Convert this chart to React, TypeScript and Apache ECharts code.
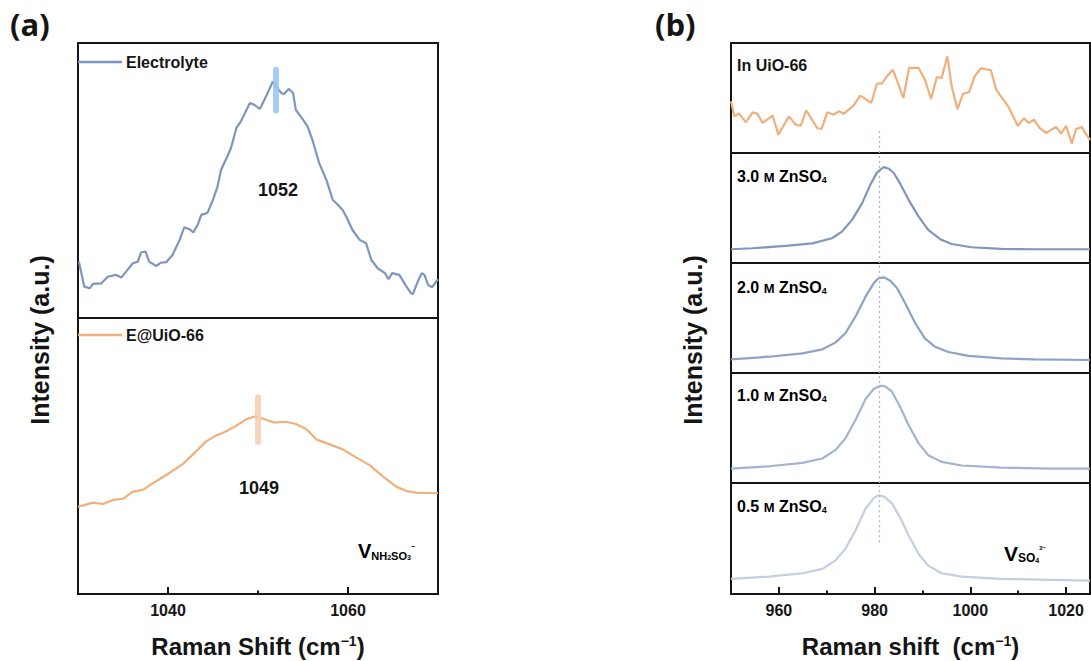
import React, { useEffect, useRef } from "react";
import * as echarts from "echarts";

// ---------- data ----------
const electrolyte: [number, number][] = [
  [1030.1, 20.5], [1030.7, 11.4], [1031.3, 10.8], [1031.65, 12.4], [1032.6, 12.6], [1033.3, 15.0],
  [1034.2, 15.7], [1034.8, 14.7], [1035.5, 17.5], [1036.1, 19.9], [1036.65, 20.5], [1037.0, 23.8],
  [1037.5, 24.2], [1037.9, 20.5], [1038.7, 18.9], [1039.2, 20.1], [1039.8, 20.3], [1040.5, 22.9],
  [1041.3, 28.4], [1041.8, 33.0], [1042.4, 32.3], [1042.8, 31.1], [1043.3, 33.9], [1043.7, 37.5],
  [1044.4, 38.3], [1045.0, 43.0], [1045.5, 47.8], [1045.9, 53.9], [1046.5, 58.1], [1047.0, 61.8],
  [1047.6, 69.1], [1048.1, 71.5], [1049.1, 78.2], [1049.6, 77.5], [1050.2, 76.0], [1050.9, 80.6],
  [1051.65, 86.0], [1052.0, 84.2], [1052.6, 81.8], [1052.9, 81.4], [1053.4, 83.3], [1053.9, 81.8],
  [1054.2, 75.7], [1055.0, 72.1], [1055.5, 69.7], [1056.1, 64.2], [1056.8, 56.3], [1057.6, 50.2],
  [1058.3, 43.0], [1058.9, 41.1], [1059.4, 39.3], [1059.8, 36.9], [1060.5, 32.0], [1061.3, 28.4],
  [1062.0, 27.2], [1062.6, 21.1], [1063.3, 18.1], [1064.1, 16.3], [1064.5, 14.1], [1064.9, 16.3],
  [1065.7, 15.7], [1066.5, 11.4], [1067.0, 9.0], [1067.2, 8.7], [1067.9, 14.4], [1068.2, 16.3],
  [1068.5, 15.7], [1068.9, 12.0], [1069.35, 11.2], [1070.0, 14.1],
];

const eAtUiO: [number, number][] = [
  [1030.0, 31.6], [1030.7, 32.2], [1031.65, 33.1], [1032.8, 32.6], [1033.9, 34.1], [1035.0, 34.5],
  [1036.1, 37.1], [1037.2, 37.7], [1038.3, 40.1], [1039.8, 43.1], [1041.65, 47.1], [1043.1, 51.6],
  [1044.2, 55.2], [1045.2, 57.2], [1046.3, 58.7], [1047.6, 61.0], [1048.7, 63.3], [1049.6, 64.3],
  [1050.5, 63.6], [1051.8, 62.1], [1053.1, 62.4], [1054.2, 61.6], [1055.35, 59.8], [1056.5, 56.0],
  [1057.9, 54.3], [1059.4, 52.4], [1060.9, 49.5], [1062.4, 46.7], [1063.9, 42.5], [1065.35, 38.9],
  [1066.5, 37.3], [1067.6, 36.7], [1068.7, 36.6], [1070.0, 36.6],
];

const inUiO66: [number, number][] = [
  [950.0, 47.0], [950.7, 33.3], [951.7, 35.8], [953.1, 27.9], [954.5, 37.0], [955.5, 35.8],
  [956.6, 27.3], [958.7, 33.9], [959.9, 16.7], [962.1, 33.3], [963.5, 25.8], [964.6, 24.8],
  [965.7, 38.8], [968.0, 22.7], [968.9, 21.8], [970.1, 37.0], [971.5, 34.8], [972.5, 37.9],
  [973.6, 35.8], [975.6, 43.0], [977.0, 52.1], [979.3, 45.5], [980.5, 63.0], [981.5, 63.0],
  [982.6, 69.7], [983.8, 75.8], [985.0, 62.1], [986.0, 50.0], [987.2, 77.3], [989.2, 77.3],
  [990.5, 66.7], [991.8, 49.1], [993.0, 69.1], [994.0, 68.2], [995.2, 87.9], [996.1, 60.6],
  [997.3, 40.0], [998.5, 53.9], [999.7, 55.2], [1000.9, 69.7], [1002.2, 77.0], [1004.3, 75.2],
  [1005.4, 57.6], [1006.5, 50.9], [1007.9, 42.4], [1009.9, 24.8], [1011.2, 31.5], [1012.2, 27.3],
  [1013.3, 30.3], [1014.5, 22.7], [1015.8, 18.2], [1016.9, 21.2], [1017.9, 23.6], [1019.0, 17.6],
  [1020.0, 24.8], [1021.2, 8.5], [1022.1, 21.8], [1023.3, 23.6], [1023.8, 19.7], [1024.5, 15.2],
  [1025.0, 12.0],
];

const zn30: [number, number][] = [
  [950.0, 12.5], [954.5, 13.4], [961.4, 15.5], [967.0, 17.9], [971.1, 22.5], [973.2, 28.6],
  [975.3, 39.2], [977.4, 54.4], [979.1, 71.1], [980.5, 82.4], [981.9, 87.2], [983.0, 85.7],
  [984.0, 81.8], [985.3, 72.6], [987.1, 57.4], [989.2, 42.2], [991.2, 30.1], [993.7, 21.6],
  [996.1, 17.3], [1000.2, 14.3], [1006.5, 12.8], [1013.4, 12.5], [1025.0, 12.5],
];

const zn20: [number, number][] = [
  [950.0, 12.4], [958.0, 14.8], [964.9, 17.9], [969.1, 21.5], [971.8, 27.6], [973.9, 36.1],
  [976.0, 51.2], [978.1, 69.4], [979.8, 81.5], [980.8, 86.1], [981.9, 87.0], [983.3, 83.9],
  [984.7, 77.0], [986.4, 63.3], [988.5, 45.2], [990.5, 31.5], [992.6, 23.9], [995.4, 19.1],
  [999.6, 15.5], [1006.5, 13.3], [1013.4, 12.4], [1025.0, 11.8],
];

const zn10: [number, number][] = [
  [950.0, 13.1], [958.0, 15.2], [964.9, 18.3], [969.1, 22.3], [971.8, 29.9], [973.9, 40.5],
  [976.0, 57.3], [978.1, 76.2], [979.8, 85.4], [981.2, 88.4], [982.2, 87.8], [983.6, 83.2],
  [985.3, 69.5], [987.1, 52.7], [989.2, 36.0], [991.2, 25.3], [994.0, 19.2], [998.2, 15.9],
  [1006.5, 14.0], [1016.9, 13.1], [1025.0, 13.1],
];

const zn05: [number, number][] = [
  [950.0, 13.6], [958.0, 15.7], [964.9, 18.7], [969.1, 22.6], [971.8, 30.1], [973.9, 40.7],
  [976.0, 57.2], [978.1, 76.8], [979.8, 86.4], [980.8, 88.9], [981.9, 88.0], [983.6, 81.9],
  [985.3, 69.3], [987.1, 52.7], [989.2, 36.1], [991.2, 25.6], [994.0, 18.7], [998.2, 15.7],
  [1006.5, 13.6], [1016.9, 12.7], [1025.0, 12.0],
];

const aRange = [1030, 1070];
const aTickStep = 10;
const aMajorTicks = [1040, 1060];
const aMinorTicks = [1050];
const bRange = [950, 1025];
const bTickStep = 10;
const bMajorTicks = [960, 980, 1000, 1020];
const bMinorTicks = [970, 990, 1010];

const peakElectrolyte = { x: 1052, lo: 75.5, hi: 90.3, label: "1052" };
const peakEAtUiO = { x: 1050, lo: 55.2, hi: 71.3, label: "1049" };
const refLineX = 981;
const refTopLow = 21; // in UiO-66 panel, dotted line reaches up to this value
const refBottomHigh = 46.7; // 0.5 M panel, dotted line reaches down to this value

const zincLabels = ["3.0", "2.0", "1.0", "0.5"];

// ---------- styles ----------
const FONT = '"Liberation Sans", Arial, Helvetica, sans-serif';
const INK = "#151515";
const BLUE = "#7d95bf";
const ORANGE = "#efb07b";
const ZN_COLORS = ["#8196bd", "#8ea2c6", "#a3b3d1", "#c4cee1"];
const MAJOR_TICK_PX = 7;
const MINOR_TICK_PX = 3.5;

export default function App() {
  const ref = useRef<HTMLDivElement>(null);

  useEffect(() => {
    const chart = echarts.init(ref.current!, null, { renderer: "svg" });

    const gridStyle = {
      show: true, borderColor: INK, borderWidth: 2, backgroundColor: "transparent",
      outerBoundsMode: "none", containLabel: false,
    };
    const bTops = [43, 153, 263, 373, 483];
    const grids: any[] = [
      { left: 78, top: 43, width: 360, height: 275, ...gridStyle },
      { left: 78, top: 318, width: 360, height: 276, ...gridStyle },
      ...bTops.map((t, i) => ({ left: 731, top: t, width: 359, height: i === 4 ? 111 : 110, ...gridStyle })),
    ];

    const hiddenX = (gridIndex: number, range: number[]) => ({
      type: "value", gridIndex, min: range[0], max: range[1],
      axisLine: { show: false }, axisTick: { show: false }, axisLabel: { show: false }, splitLine: { show: false },
    });

    const nameRich = (txt: string) => ({
      name: `{t|${txt} (cm}{s|−1}{t|)}`,
      nameLocation: "middle",
      nameGap: 40,
      nameTextStyle: {
        rich: {
          t: { fontFamily: FONT, fontWeight: "bold", fontSize: 24, color: INK, lineHeight: 24, verticalAlign: "bottom" },
          s: { fontFamily: FONT, fontWeight: "bold", fontSize: 14, color: INK, lineHeight: 24, verticalAlign: "top" },
        },
      },
    });

    const majorX = (gridIndex: number, range: number[], step: number, labels: number[], name: string) => ({
      type: "value", gridIndex, min: range[0], max: range[1], interval: step, position: "bottom",
      axisLine: { show: true, lineStyle: { color: INK, width: 2 } },
      axisTick: { show: false },
      axisLabel: {
        show: true, showMinLabel: true, showMaxLabel: true,
        fontFamily: FONT, fontWeight: "bold", fontSize: 16, color: INK, margin: 8,
        formatter: (v: number) => (labels.indexOf(v) >= 0 ? String(v) : ""),
      },
      splitLine: { show: false },
      ...nameRich(name),
    });

    const xAxes: any[] = [
      hiddenX(0, aRange),
      majorX(1, aRange, aTickStep, aMajorTicks, "Raman Shift"),
      hiddenX(2, bRange),
      hiddenX(3, bRange),
      hiddenX(4, bRange),
      hiddenX(5, bRange),
      majorX(6, bRange, bTickStep, bMajorTicks, "Raman shift "),
    ];
    const yAxes: any[] = grids.map((_, i) => ({ type: "value", gridIndex: i, min: 0, max: 100, show: false }));

    const lineSeries = (name: string, data: any, xi: number, yi: number, color: string, marks: any[] = []) => ({
      type: "line", name, data, xAxisIndex: xi, yAxisIndex: yi,
      symbol: "none", showSymbol: false, smooth: false,
      lineStyle: { color, width: 2.2 }, itemStyle: { color },
      markLine: {
        silent: true, symbol: ["none", "none"], label: { show: false }, animation: false,
        data: marks,
      },
    });

    const peakBar = (p: { x: number; lo: number; hi: number }, color: string) =>
      [{ coord: [p.x, p.lo], lineStyle: { color, width: 6, type: "solid", cap: "round" } }, { coord: [p.x, p.hi] }];

    const dotted = (lo: number, hi: number) =>
      [{ coord: [refLineX, lo], lineStyle: { color: "#a8b6d6", width: 1.3, type: [2, 3] } }, { coord: [refLineX, hi] }];

    // axis ticks (inward), converted from pixel length to the panel's 0-100 scale
    const ticks = (major: number[], minor: number[], gridHeight: number) => [
      ...major.map((v) => [
        { coord: [v, 0], lineStyle: { color: INK, width: 2, type: "solid" } },
        { coord: [v, (MAJOR_TICK_PX / gridHeight) * 100] },
      ]),
      ...minor.map((v) => [
        { coord: [v, 0], lineStyle: { color: INK, width: 2, type: "solid" } },
        { coord: [v, (MINOR_TICK_PX / gridHeight) * 100] },
      ]),
    ];

    const series: any[] = [
      lineSeries("Electrolyte", electrolyte, 0, 0, BLUE, [peakBar(peakElectrolyte, "rgba(150,195,245,0.85)")]),
      lineSeries("E@UiO-66", eAtUiO, 1, 1, ORANGE, [
        peakBar(peakEAtUiO, "rgba(246,205,175,0.85)"),
        ...ticks(aMajorTicks, aMinorTicks, grids[1].height),
      ]),
      lineSeries("In UiO-66", inUiO66, 2, 2, ORANGE, [dotted(0, refTopLow)]),
      lineSeries("3.0 M ZnSO4", zn30, 3, 3, ZN_COLORS[0], [dotted(0, 100)]),
      lineSeries("2.0 M ZnSO4", zn20, 4, 4, ZN_COLORS[1], [dotted(0, 100)]),
      lineSeries("1.0 M ZnSO4", zn10, 5, 5, ZN_COLORS[2], [dotted(0, 100)]),
      lineSeries("0.5 M ZnSO4", zn05, 6, 6, ZN_COLORS[3], [
        dotted(refBottomHigh, 100),
        ...ticks(bMajorTicks, bMinorTicks, grids[6].height),
      ]),
    ];

    const legendText = { fontFamily: FONT, fontWeight: "bold", fontSize: 16, color: INK, padding: [0, 0, 0, -1] };
    const legendBase = {
      orient: "horizontal", padding: 0, itemWidth: 44, itemHeight: 2.5, itemGap: 4,
      icon: "rect", textStyle: legendText, selectedMode: false,
    };
    const legends: any[] = [
      { ...legendBase, data: ["Electrolyte"], left: 78, top: 54 },
      { ...legendBase, data: ["E@UiO-66"], left: 78, top: 327 },
    ];

    const txtBase = { fontFamily: FONT, fontWeight: "bold", fill: INK };
    const zRich = {
      a: { fontFamily: FONT, fontWeight: "bold", fontSize: 16, color: INK, lineHeight: 18, verticalAlign: "bottom" },
      m: { fontFamily: FONT, fontWeight: "bold", fontSize: 13, color: INK, lineHeight: 16, verticalAlign: "bottom" },
      s: { fontFamily: FONT, fontWeight: "bold", fontSize: 9, color: INK, lineHeight: 8, verticalAlign: "bottom" },
    };

    const graphics: any[] = [
      { type: "text", left: 10, top: 8, style: { text: "(a)", font: 'bold 31px "Open Sans", sans-serif', fill: INK } },
      { type: "text", left: 655, top: 8, style: { text: "(b)", font: 'bold 31px "Open Sans", sans-serif', fill: INK } },
      { type: "text", x: 40, y: 340, rotation: Math.PI / 2, style: { ...txtBase, text: "Intensity (a.u.)", fontSize: 25, align: "center", verticalAlign: "middle" } },
      { type: "text", x: 693, y: 340, rotation: Math.PI / 2, style: { ...txtBase, text: "Intensity (a.u.)", fontSize: 25, align: "center", verticalAlign: "middle" } },
      { type: "text", x: 278, y: 190, style: { ...txtBase, text: peakElectrolyte.label, fontSize: 18, align: "center", verticalAlign: "middle" } },
      { type: "text", x: 259, y: 488, style: { ...txtBase, text: peakEAtUiO.label, fontSize: 18, align: "center", verticalAlign: "middle" } },
      { type: "text", x: 737, y: 65, style: { ...txtBase, text: "In UiO-66", fontSize: 16, align: "left", verticalAlign: "middle" } },
      ...zincLabels.map((c, i) => ({
        type: "text", x: 737, y: 175 + [0, 111, 219, 330][i],
        style: { text: `{a|${c} }{m|M}{a| ZnSO}{s|4}`, align: "left", verticalAlign: "middle", rich: zRich },
      })),
      {
        type: "text", x: 358, y: 550,
        style: {
          text: "{v|V}{s|NH}{ss|2}{s|SO}{ss|3}{sp|−}", align: "left", verticalAlign: "middle",
          rich: {
            v: { fontFamily: FONT, fontWeight: "bold", fontSize: 20, color: INK, lineHeight: 22, verticalAlign: "bottom" },
            s: { fontFamily: FONT, fontWeight: "bold", fontSize: 11, color: INK, lineHeight: 6, verticalAlign: "bottom" },
            ss: { fontFamily: FONT, fontWeight: "bold", fontSize: 7, color: INK, lineHeight: 2, verticalAlign: "bottom" },
            sp: { fontFamily: FONT, fontWeight: "bold", fontSize: 7, color: INK, lineHeight: 8, verticalAlign: "top", padding: [4, 0, 0, 0] },
          },
        },
      },
      {
        type: "text", x: 1004, y: 553,
        style: {
          text: "{v|V}{s|SO}{ss|4}{sp|2−}", align: "left", verticalAlign: "middle",
          rich: {
            v: { fontFamily: FONT, fontWeight: "bold", fontSize: 21, color: INK, lineHeight: 22, verticalAlign: "bottom" },
            s: { fontFamily: FONT, fontWeight: "bold", fontSize: 12, color: INK, lineHeight: 6, verticalAlign: "bottom" },
            ss: { fontFamily: FONT, fontWeight: "bold", fontSize: 7, color: INK, lineHeight: 2, verticalAlign: "bottom" },
            sp: { fontFamily: FONT, fontWeight: "bold", fontSize: 6, color: INK, lineHeight: 8, verticalAlign: "top", padding: [3, 0, 0, 0] },
          },
        },
      },
    ];

    chart.setOption({
      animation: false,
      backgroundColor: "#ffffff",
      grid: grids,
      xAxis: xAxes,
      yAxis: yAxes,
      legend: legends,
      series,
      graphic: graphics,
    });

    return () => chart.dispose();
  }, []);

  return <div ref={ref} style={{ position: "fixed", left: 0, top: 0, width: 1091, height: 661 }} />;
}
